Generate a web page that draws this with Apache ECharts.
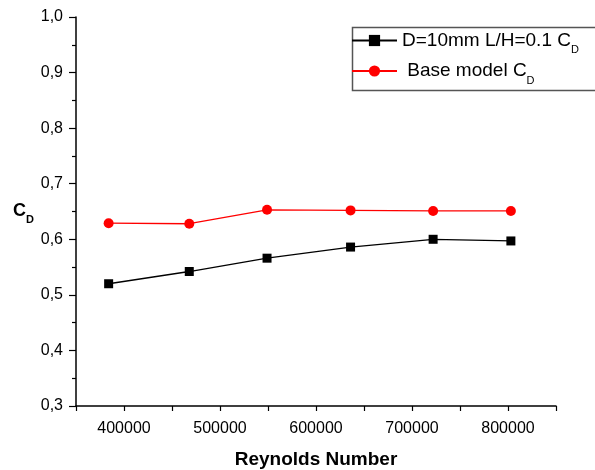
<!DOCTYPE html>
<html>
<head>
<meta charset="utf-8">
<script src="https://cdn.jsdelivr.net/npm/echarts@6/dist/echarts.min.js"></script>
<style>
html,body{margin:0;padding:0;background:#fff;}
#chart{width:595px;height:470px;}
</style>
</head>
<body>
<div id="chart"></div>
<script>
// Data
const reynolds = [384000, 468000, 549000, 636000, 722000, 803000];
const cdD10 = [0.520, 0.542, 0.566, 0.586, 0.600, 0.597];
const cdBase = [0.629, 0.628, 0.653, 0.652, 0.651, 0.651];
const seriesNames = ['D=10mm L/H=0.1 CD', 'Base model CD'];
const legendLabels = ['D=10mm L/H=0.1 C{sub|D}', ' Base model C{sub|D}'];

const FONT = '"Liberation Sans", Arial, sans-serif';
const chart = echarts.init(document.getElementById('chart'), null, {renderer: 'canvas'});

function pairs(xs, ys) { return xs.map((x, i) => [x, ys[i]]); }

chart.setOption({
  animation: false,
  backgroundColor: '#fff',
  grid: {left: 76, right: 39, top: 17, bottom: 64, containLabel: false, outerBoundsMode: 'none'},
  xAxis: {
    type: 'value', min: 350000, max: 850000, interval: 50000,
    name: 'Reynolds Number', nameLocation: 'middle', nameGap: 44,
    nameTextStyle: {fontFamily: FONT, fontSize: 19, fontWeight: 'bold', color: '#000'},
    axisLine: {show: true, lineStyle: {color: '#000', width: 1.5}},
    axisTick: {show: true, length: 5, lineStyle: {color: '#000', width: 1.2}},
    axisLabel: {
      fontFamily: FONT, fontSize: 16, color: '#000', margin: 15,
      formatter: v => (Math.round(v) % 100000 === 0 ? String(Math.round(v)) : '')
    },
    splitLine: {show: false}
  },
  yAxis: {
    type: 'value', min: 0.3, max: 1.0, interval: 0.1,
    name: 'C{sub|D}', nameLocation: 'middle', nameRotate: 0, nameGap: 42,
    nameTextStyle: {
      fontFamily: FONT, fontSize: 18, fontWeight: 'bold', color: '#000',
      rich: {sub: {fontFamily: FONT, fontSize: 11, fontWeight: 'bold', color: '#000', padding: [17, 0, 0, 0]}}
    },
    axisLine: {show: true, lineStyle: {color: '#000', width: 1.5}},
    axisTick: {show: true, length: 7, lineStyle: {color: '#000', width: 1.2}},
    minorTick: {show: true, splitNumber: 2, length: 4, lineStyle: {color: '#000', width: 1.2}},
    axisLabel: {
      fontFamily: FONT, fontSize: 16, color: '#000', margin: 13,
      formatter: v => v.toFixed(1).replace('.', ',')
    },
    splitLine: {show: false}
  },
  legend: {
    orient: 'vertical', left: 351, top: 31,
    itemWidth: 45, itemHeight: 14, itemGap: 6, padding: 0,
    data: seriesNames,
    formatter: name => legendLabels[seriesNames.indexOf(name)],
    textStyle: {
      fontFamily: FONT, fontSize: 19, color: '#000',
      rich: {sub: {fontFamily: FONT, fontSize: 11, color: '#000', padding: [19, 0, 0, 0]}}
    }
  },
  graphic: [{
    type: 'rect', left: 350, top: 25, z: 0,
    shape: {width: 300, height: 63},
    style: {fill: 'none', stroke: '#555', lineWidth: 1.5}
  }],
  series: [
    {
      name: seriesNames[0], type: 'line', data: pairs(reynolds, cdD10),
      symbol: 'rect', symbolSize: 9,
      itemStyle: {color: '#000'},
      lineStyle: {color: '#000', width: 1.3}
    },
    {
      name: seriesNames[1], type: 'line', data: pairs(reynolds, cdBase),
      symbol: 'circle', symbolSize: 10,
      itemStyle: {color: '#ff0000'},
      lineStyle: {color: '#ff0000', width: 1.3}
    }
  ]
});
</script>
</body>
</html>
